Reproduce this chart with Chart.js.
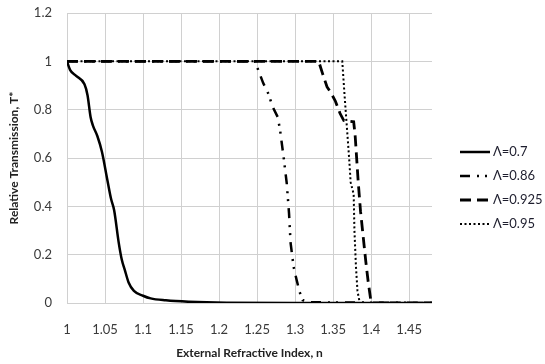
<!DOCTYPE html>
<html>
<head>
<meta charset="utf-8">
<script src="https://cdn.jsdelivr.net/npm/chart.js@4.4.1/dist/chart.umd.min.js"></script>
<style>
  html, body { margin: 0; padding: 0; background: #ffffff; }
  #wrap { width: 545px; height: 364px; }
</style>
</head>
<body>
<div id="wrap"><canvas id="chart" width="545" height="364"></canvas></div>
<script>
// External refractive index (n) and relative transmission (T*) for each grating period
const n07   = [1, 1.004, 1.012, 1.023, 1.027, 1.031, 1.034, 1.04, 1.046, 1.053, 1.058, 1.062, 1.068, 1.072, 1.076, 1.081, 1.088, 1.1, 1.11, 1.13, 1.16, 1.21, 1.3, 1.48];
const t07   = [1, 0.965, 0.94, 0.905, 0.86, 0.77, 0.735, 0.69, 0.625, 0.51, 0.43, 0.384, 0.25, 0.18, 0.137, 0.085, 0.05, 0.03, 0.019, 0.011, 0.005, 0.001, 0, 0];

const n086  = [1, 1.247, 1.252, 1.258, 1.265, 1.27, 1.277, 1.28, 1.285, 1.289, 1.292, 1.294, 1.298, 1.302, 1.306, 1.31, 1.32, 1.48];
const t086  = [1, 1, 0.96, 0.91, 0.865, 0.815, 0.77, 0.72, 0.6, 0.495, 0.37, 0.25, 0.15, 0.095, 0.045, 0.012, 0.003, 0];

const n0925 = [1, 1.331, 1.336, 1.342, 1.347, 1.353, 1.359, 1.364, 1.377, 1.379, 1.383, 1.386, 1.389, 1.393, 1.396, 1.4, 1.48];
const t0925 = [1, 1, 0.95, 0.894, 0.87, 0.835, 0.785, 0.755, 0.75, 0.69, 0.5, 0.38, 0.29, 0.17, 0.09, 0, 0];

const n095  = [1, 1.362, 1.365, 1.368, 1.371, 1.373, 1.377, 1.378, 1.38, 1.382, 1.385, 1.48];
const t095  = [1, 1, 0.86, 0.73, 0.6, 0.5, 0.45, 0.3, 0.15, 0.05, 0, 0];

const seriesLabels = ['\u039B=0.7', '\u039B=0.86', '\u039B=0.925', '\u039B=0.95'];
const xTicks = [1, 1.05, 1.1, 1.15, 1.2, 1.25, 1.3, 1.35, 1.4, 1.45];
const yTicks = [0, 0.2, 0.4, 0.6, 0.8, 1, 1.2];
const xMin = 1, xMax = 1.48, yMin = 0, yMax = 1.2;

const FONT = 'Lato, "Liberation Sans", sans-serif';
const pairs = (xs, ys) => xs.map((x, i) => ({ x: x, y: ys[i] }));

// Legend drawn to the right of the plot, one line sample per series
const sideLegend = {
  id: 'sideLegend',
  afterDraw(chart) {
    const ctx = chart.ctx;
    const x0 = chart.chartArea.right + 28;
    ctx.save();
    chart.data.datasets.forEach((ds, i) => {
      const y = 152 + i * 24;
      ctx.beginPath();
      ctx.setLineDash(ds.borderDash || []);
      ctx.lineWidth = ds.borderWidth;
      ctx.strokeStyle = ds.borderColor;
      ctx.moveTo(x0, y);
      ctx.lineTo(x0 + 30, y);
      ctx.stroke();
      ctx.setLineDash([]);
      ctx.fillStyle = '#1e1e2e';
      ctx.font = '13px ' + FONT;
      ctx.textBaseline = 'middle';
      ctx.textAlign = 'left';
      ctx.fillText(ds.label, x0 + 33, y);
    });
    ctx.restore();
  }
};

new Chart(document.getElementById('chart'), {
  type: 'line',
  data: {
    datasets: [
      { label: seriesLabels[0], data: pairs(n07, t07), borderColor: '#000', borderWidth: 2.5,
        cubicInterpolationMode: 'monotone', pointRadius: 0 },
      { label: seriesLabels[1], data: pairs(n086, t086), borderColor: '#000', borderWidth: 2.5,
        borderDash: [10, 7, 2, 6, 2, 7], tension: 0, pointRadius: 0 },
      { label: seriesLabels[2], data: pairs(n0925, t0925), borderColor: '#000', borderWidth: 2.8,
        borderDash: [11, 6], tension: 0, pointRadius: 0 },
      { label: seriesLabels[3], data: pairs(n095, t095), borderColor: '#000', borderWidth: 2,
        borderDash: [2, 2.5], tension: 0, pointRadius: 0 }
    ]
  },
  options: {
    responsive: false,
    animation: false,
    devicePixelRatio: 1,
    layout: { padding: { top: 13, right: 113, bottom: 0, left: 0 } },
    plugins: { legend: { display: false }, tooltip: { enabled: false } },
    scales: {
      x: {
        type: 'linear',
        min: xMin, max: xMax,
        afterBuildTicks: (scale) => { scale.ticks = xTicks.map(v => ({ value: v })); },
        afterFit: (scale) => { scale.height = 61; scale.paddingLeft = 0; scale.paddingRight = 0; },
        grid: { color: '#d0d0d0', lineWidth: 1, drawTicks: false },
        border: { display: false },
        ticks: { padding: 19, color: '#3a3a3a', font: { family: FONT, size: 13 },
                 maxRotation: 0, autoSkip: false,
                 callback: (v) => String(Math.round(v * 100) / 100) },
        title: { display: true, text: 'External Refractive Index, n', color: '#222',
                 font: { family: FONT, size: 12, weight: 'bold' }, padding: { top: 4, bottom: 4 } }
      },
      y: {
        min: yMin, max: yMax,
        afterBuildTicks: (scale) => { scale.ticks = yTicks.map(v => ({ value: v })); },
        afterFit: (scale) => { scale.width = 67; scale.paddingTop = 0; scale.paddingBottom = 0; },
        grid: { color: '#d0d0d0', lineWidth: 1, drawTicks: false },
        border: { display: false },
        ticks: { padding: 15, color: '#3a3a3a', font: { family: FONT, size: 13 },
                 callback: (v) => String(Math.round(v * 10) / 10) },
        title: { display: true, text: 'Relative Transmission, T*', color: '#222',
                 font: { family: FONT, size: 12, weight: 'bold' }, padding: { top: 7, bottom: 4 } }
      }
    }
  },
  plugins: [sideLegend]
});
</script>
</body>
</html>
